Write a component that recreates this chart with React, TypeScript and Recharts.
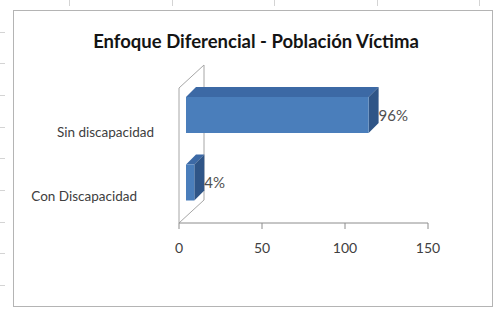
import React from "react";
import { BarChart, Bar, XAxis, YAxis, ReferenceArea, LabelList } from "recharts";

const categories = ["Sin discapacidad", "Con Discapacidad"];
const values = [110, 5];
const valueLabels = ["96%", "4%"];
const xTicks = [0, 50, 100, 150];
const title = "Enfoque Diferencial - Población Víctima";

const data = categories.map((c, i) => ({ name: c, value: values[i], label: valueLabels[i] }));

const SHIFT = 7; // front face offset into the depth
const DEPTH = 10; // bar depth
const WALL = { dx: 25, dy: 23 };

const Bar3D = (props: any) => {
  const { x, y, width, height } = props;
  const fx = x + SHIFT;
  const fy = y - SHIFT;
  const w = width;
  const h = height;
  return (
    <g>
      <polygon
        points={`${fx},${fy} ${fx + w},${fy} ${fx + w + DEPTH},${fy - DEPTH} ${fx + DEPTH},${fy - DEPTH}`}
        fill="#3c69a5"
      />
      <polygon
        points={`${fx + w},${fy} ${fx + w + DEPTH},${fy - DEPTH} ${fx + w + DEPTH},${fy - DEPTH + h} ${fx + w},${fy + h}`}
        fill="#2f5587"
      />
      <rect x={fx} y={fy} width={w} height={h} fill="#4a7ebb" />
    </g>
  );
};

const Wall = (props: any) => {
  const { x, y, height } = props;
  const b = y + height;
  return (
    <path
      d={`M${x},${b} L${x},${y} L${x + WALL.dx},${y - WALL.dy} L${x + WALL.dx},${b - WALL.dy} Z`}
      fill="none"
      stroke="#a6a6a6"
      strokeWidth={1}
    />
  );
};

const CatTick = (props: any) => {
  const { x, y, payload, index } = props;
  const dxs = [-25, -42];
  const dys = [12, 8];
  return (
    <text
      x={x + dxs[index]}
      y={y + dys[index]}
      textAnchor="end"
      dominantBaseline="middle"
      fontFamily="Lato, sans-serif"
      fontSize={13.5}
      fill="#404040"
    >
      {payload.value}
    </text>
  );
};

const ValueLabel = (props: any) => {
  const { x, y, width, height, index } = props;
  return (
    <text
      x={x + width + SHIFT + DEPTH}
      y={y - SHIFT + height / 2 + 2}
      dominantBaseline="middle"
      fontFamily="Lato, sans-serif"
      fontSize={15}
      fill="#505050"
    >
      {valueLabels[index]}
    </text>
  );
};

export default function App() {
  const topMarks = [69, 172, 274, 377, 479];
  const leftMarks = [32, 63, 95, 127, 158, 190, 222, 253, 285];
  return (
    <div style={{ position: "absolute", left: 0, top: 0, width: 494, height: 310, background: "#fff", overflow: "hidden" }}>
      {topMarks.map((m) => (
        <div key={"t" + m} style={{ position: "absolute", left: m, top: 0, width: 1, height: 6, background: "#d4d4d4" }} />
      ))}
      {leftMarks.map((m) => (
        <div key={"l" + m} style={{ position: "absolute", left: 0, top: m, width: 5, height: 1, background: "#d4d4d4" }} />
      ))}
      <div
        style={{
          position: "absolute",
          left: 13,
          top: 10,
          width: 480,
          height: 297,
          border: "1px solid #b4b4b4",
          boxSizing: "border-box",
        }}
      />
      <div
        style={{
          position: "absolute",
          left: 0,
          width: 512,
          top: 29,
          textAlign: "center",
          fontFamily: "Lato, sans-serif",
          fontWeight: 700,
          fontSize: 18.5,
          color: "#141414",
          lineHeight: "24px",
          whiteSpace: "nowrap",
        }}
      >
        {title}
      </div>
      <div style={{ position: "absolute", left: 0, top: 0 }}>
        <BarChart
          width={494}
          height={310}
          data={data}
          layout="vertical"
          margin={{ top: 88, right: 66, bottom: 0, left: 0 }}
          barSize={36}
        >
          <XAxis
            type="number"
            domain={[0, 150]}
            ticks={xTicks}
            height={87}
            axisLine={{ stroke: "#8c8c8c" }}
            tickLine={{ stroke: "#8c8c8c" }}
            tickSize={6}
            tickMargin={14}
            tick={{ fontFamily: "Lato, sans-serif", fontSize: 14, fill: "#404040" }}
            interval={0}
          />
          <YAxis
            type="category"
            dataKey="name"
            width={179}
            axisLine={false}
            tickLine={false}
            tickSize={0}
            tickMargin={0}
            tick={<CatTick />}
          />
          <ReferenceArea x1={0} x2={150} shape={<Wall />} ifOverflow="visible" />
          <Bar dataKey="value" shape={<Bar3D />} isAnimationActive={false}>
            <LabelList dataKey="label" content={<ValueLabel />} />
          </Bar>
        </BarChart>
      </div>
    </div>
  );
}
